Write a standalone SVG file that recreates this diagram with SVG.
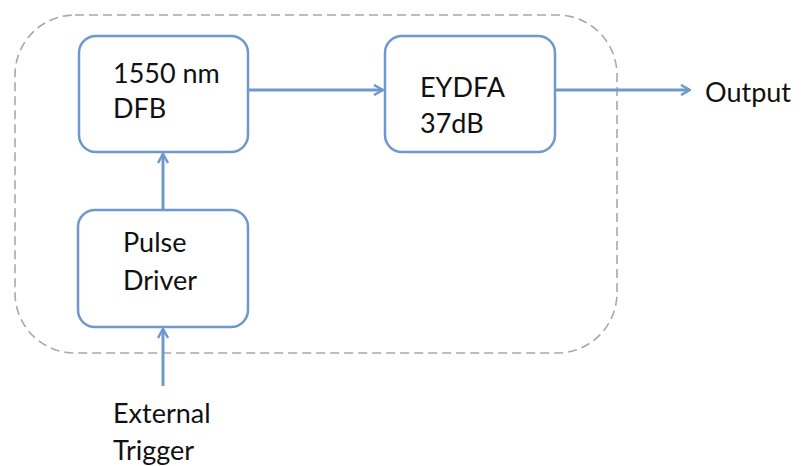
<svg xmlns="http://www.w3.org/2000/svg" width="810" height="466" viewBox="0 0 810 466">
<defs>
<style>
.box{fill:#fff;stroke:#6f98cc;stroke-width:2.5}
.conn{stroke:#6f98cc;stroke-width:3;fill:none}
.t{font-family:Lato,"Liberation Sans",Arial,sans-serif;font-size:27px;fill:#111}
</style>
<marker id="ah" viewBox="0 0 12 12" refX="11" refY="6" markerWidth="12" markerHeight="12" markerUnits="userSpaceOnUse" orient="auto">
<path d="M2,1 L11,6 L2,11" fill="none" stroke="#6f98cc" stroke-width="2.5"/>
</marker>
</defs>
<rect width="810" height="466" fill="#fff"/>
<g id="boundary">
<rect x="15" y="15" width="602" height="338" rx="60" ry="60" fill="none" stroke="#a8a8a8" stroke-width="1.6" stroke-dasharray="9,5"/>
</g>
<g id="connectors">
<line class="conn" x1="248" y1="90" x2="383" y2="90" marker-end="url(#ah)"/>
<line class="conn" x1="555" y1="90" x2="690" y2="90" marker-end="url(#ah)"/>
<line class="conn" x1="163" y1="210" x2="163" y2="154" marker-end="url(#ah)"/>
<line class="conn" x1="163" y1="386" x2="163" y2="329" marker-end="url(#ah)"/>
</g>
<g id="dfb">
<rect class="box" x="79" y="36" width="169" height="116" rx="17"/>
<text class="t" x="113" y="83">1550 nm</text>
<text class="t" x="113" y="118">DFB</text>
</g>
<g id="eydfa">
<rect class="box" x="385" y="36" width="170" height="116" rx="17"/>
<text class="t" x="420" y="97">EYDFA</text>
<text class="t" x="420" y="133">37dB</text>
</g>
<g id="pulse">
<rect class="box" x="78" y="210" width="170" height="117" rx="17"/>
<text class="t" x="123" y="252">Pulse</text>
<text class="t" x="123" y="290">Driver</text>
</g>
<g id="output">
<text class="t" x="705" y="102">Output</text>
</g>
<g id="trigger">
<text class="t" x="113" y="423">External</text>
<text class="t" x="113" y="460">Trigger</text>
</g>
</svg>
